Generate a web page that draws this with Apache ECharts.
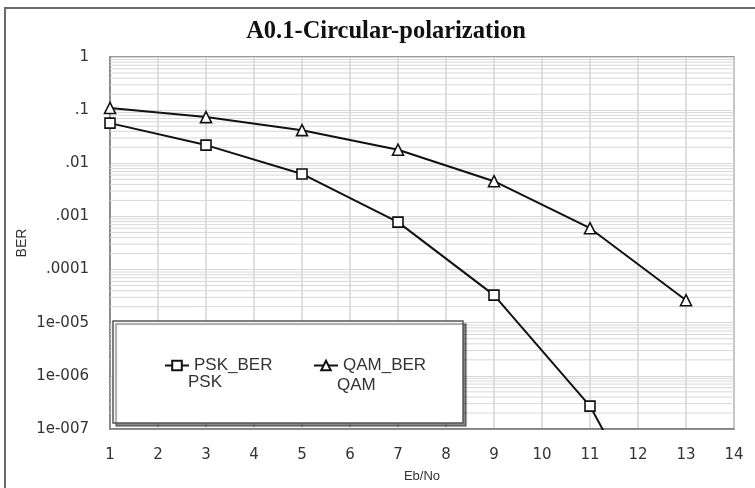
<!DOCTYPE html>
<html>
<head>
<meta charset="utf-8">
<script src="https://cdn.jsdelivr.net/npm/echarts@6/dist/echarts.min.js"></script>
<style>
  html, body { margin: 0; padding: 0; background: #fff; }
  #chart { width: 755px; height: 488px; }
</style>
</head>
<body>
<div id="chart"></div>
<script>
// Eb/No sample points and measured bit error rates
const ebNo = [1, 3, 5, 7, 9, 11, 13];
const pskBer = [0.057, 0.022, 0.0063, 0.00078, 3.3e-5, 2.7e-7, 1.3e-10];
const qamBer = [0.11, 0.074, 0.042, 0.018, 0.0046, 0.0006, 2.65e-5];

const seriesNames = ['PSK_BER', 'QAM_BER'];
const legendSubtitles = ['PSK', 'QAM'];

// y tick labels, indexed by decade exponent + 7
const yTickLabels = ['1e-007', '1e-006', '1e-005', '.0001', '.001', '.01', '.1', '1'];
const minorMantissas = [2, 3, 4, 5, 6, 7, 8, 9];
const decadeExponents = [-7, -6, -5, -4, -3, -2, -1];
const xMin = 1, xMax = 14;

// in-decade grid values (2..9 x 10^e)
const minorValues = [];
decadeExponents.forEach(e => {
  minorMantissas.forEach(m => minorValues.push([xMin, m * Math.pow(10, e)]));
});

const font = 'Arial, "Liberation Sans", sans-serif';
const tickFont = '"DejaVu Sans", Arial, sans-serif';
const ink = '#111';

const chart = echarts.init(document.getElementById('chart'), null, { renderer: 'canvas' });

chart.setOption({
  animation: false,
  backgroundColor: '#fff',
  title: {
    text: 'A0.1-Circular-polarization',
    left: 381,
    top: 14,
    textAlign: 'center',
    textStyle: {
      fontFamily: '"Liberation Serif", "Times New Roman", serif',
      fontWeight: 'bold',
      fontSize: 24.5,
      color: '#111'
    }
  },
  grid: {
    left: 110, right: 21, top: 57, bottom: 59,
    show: true,
    borderColor: '#7a7a7a',
    borderWidth: 1.5,
    backgroundColor: '#fff'
  },
  xAxis: {
    type: 'value',
    min: xMin, max: xMax, interval: 1,
    name: 'Eb/No',
    nameLocation: 'middle',
    nameGap: 41,
    nameTextStyle: { fontFamily: font, fontSize: 13, color: '#333' },
    axisLine: { show: true, lineStyle: { color: '#7a7a7a', width: 1.5 } },
    axisTick: { show: false },
    axisLabel: { margin: 19, fontFamily: tickFont, fontSize: 15, color: '#333' },
    splitLine: { show: true, lineStyle: { color: '#d4d4d4', width: 1.5 } }
  },
  yAxis: {
    type: 'log',
    logBase: 10,
    min: 1e-7, max: 1,
    interval: 1,
    name: 'BER',
    nameLocation: 'middle',
    nameGap: 81,
    nameMoveOverlap: false,
    nameRotate: 90,
    nameTextStyle: { fontFamily: font, fontSize: 14, color: '#333' },
    axisLine: { show: true, lineStyle: { color: '#7a7a7a', width: 1.5 } },
    axisTick: { show: false },
    axisLabel: {
      margin: 21,
      fontFamily: tickFont,
      fontSize: 15,
      color: '#333',
      formatter: v => yTickLabels[Math.round(Math.log10(v)) + 7]
    },
    splitLine: { show: true, lineStyle: { color: '#d8d8d8', width: 1 } }
  },
  legend: [
    {
      data: [seriesNames[0]],
      left: 159, top: 352,
      itemWidth: 24, itemHeight: 12,
      z: 6,
      textStyle: { fontFamily: font, fontSize: 17, color: '#333' }
    },
    {
      data: [seriesNames[1]],
      left: 308, top: 352,
      itemWidth: 24, itemHeight: 12,
      z: 6,
      textStyle: { fontFamily: font, fontSize: 17, color: '#333' }
    }
  ],
  graphic: [
    {
      type: 'rect', z: 1, silent: true,
      shape: { x: 5, y: 8, width: 800, height: 520 },
      style: { fill: 'none', stroke: '#6a6a6a', lineWidth: 2 }
    },
    {
      type: 'rect', z: 5, silent: true,
      shape: { x: 113, y: 321, width: 350, height: 102 },
      style: {
        fill: '#fff', stroke: '#555', lineWidth: 1.5,
        shadowColor: 'rgba(0,0,0,0.45)', shadowOffsetX: 3, shadowOffsetY: 3, shadowBlur: 1
      }
    },
    {
      type: 'text', z: 6, silent: true,
      style: { text: legendSubtitles[0], x: 188, y: 382, verticalAlign: 'middle',
               font: '17px ' + font, fill: '#333' }
    },
    {
      type: 'text', z: 6, silent: true,
      style: { text: legendSubtitles[1], x: 337, y: 385, verticalAlign: 'middle',
               font: '17px ' + font, fill: '#333' }
    }
  ],
  series: [
    {
      // dense log-decade grid lines across the plot width
      type: 'custom',
      silent: true,
      z: 1,
      clip: true,
      data: minorValues,
      encode: { x: 0, y: 1 },
      renderItem: (params, api) => {
        const y = api.coord([xMin, api.value(1)])[1];
        const cs = params.coordSys;
        return {
          type: 'line',
          shape: { x1: cs.x, y1: y, x2: cs.x + cs.width, y2: y },
          style: { stroke: '#d8d8d8', lineWidth: 1 }
        };
      }
    },
    {
      name: seriesNames[0],
      type: 'line',
      data: ebNo.map((x, i) => [x, pskBer[i]]),
      clip: true,
      z: 3,
      symbol: 'rect',
      symbolSize: 10,
      lineStyle: { color: ink, width: 2 },
      itemStyle: { color: '#fff', borderColor: ink, borderWidth: 1.6 }
    },
    {
      name: seriesNames[1],
      type: 'line',
      data: ebNo.map((x, i) => [x, qamBer[i]]),
      clip: true,
      z: 3,
      symbol: 'triangle',
      symbolSize: 11,
      lineStyle: { color: ink, width: 2 },
      itemStyle: { color: '#fff', borderColor: ink, borderWidth: 1.6 }
    }
  ]
});
</script>
</body>
</html>
